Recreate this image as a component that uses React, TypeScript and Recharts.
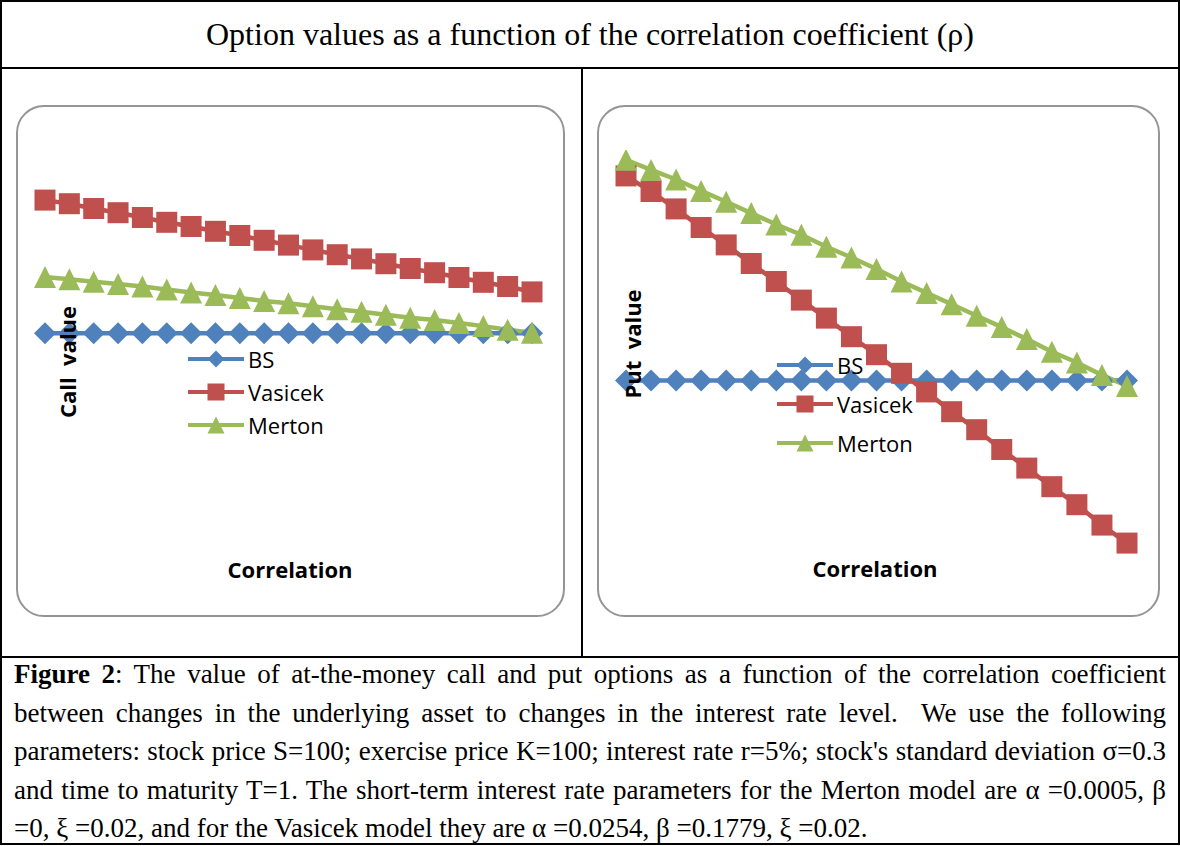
import { LineChart, Line, XAxis, YAxis, Legend } from 'recharts'

const correlation = [-1, -0.9, -0.8, -0.7, -0.6, -0.5, -0.4, -0.3, -0.2, -0.1, 0, 0.1, 0.2, 0.3, 0.4, 0.5, 0.6, 0.7, 0.8, 0.9, 1]

// call values (left panel)
const bsCall = [14.23, 14.23, 14.23, 14.23, 14.23, 14.23, 14.23, 14.23, 14.23, 14.23, 14.23, 14.23, 14.23, 14.23, 14.23, 14.23, 14.23, 14.23, 14.23, 14.23, 14.23]
const vasicekCall = [16.45, 16.39, 16.31, 16.24, 16.16, 16.08, 16.01, 15.93, 15.86, 15.78, 15.7, 15.62, 15.54, 15.47, 15.39, 15.31, 15.24, 15.16, 15.08, 15.01, 14.92]
const mertonCall = [15.17, 15.13, 15.09, 15.05, 15.01, 14.96, 14.91, 14.87, 14.82, 14.77, 14.73, 14.68, 14.63, 14.59, 14.54, 14.49, 14.45, 14.4, 14.35, 14.29, 14.24]

// put values (right panel)
const bsPut = [9.35, 9.35, 9.35, 9.35, 9.35, 9.35, 9.35, 9.35, 9.35, 9.35, 9.35, 9.35, 9.35, 9.35, 9.35, 9.35, 9.35, 9.35, 9.35, 9.35, 9.35]
const vasicekPut = [12.76, 12.5, 12.21, 11.9, 11.61, 11.3, 11.0, 10.69, 10.39, 10.08, 9.78, 9.47, 9.16, 8.83, 8.53, 8.2, 7.89, 7.58, 7.28, 6.94, 6.64]
const mertonPut = [13.03, 12.86, 12.7, 12.51, 12.33, 12.14, 11.95, 11.78, 11.58, 11.4, 11.21, 11.0, 10.81, 10.62, 10.43, 10.24, 10.04, 9.83, 9.65, 9.44, 9.26]

const seriesNames = ['BS', 'Vasicek', 'Merton']
const COLORS: Record<string, string> = { BS: '#4F81BD', Vasicek: '#C0504D', Merton: '#9BBB59' }

const callRows = correlation.map((rho, i) => ({ rho, BS: bsCall[i], Vasicek: vasicekCall[i], Merton: mertonCall[i] }))
const putRows = correlation.map((rho, i) => ({ rho, BS: bsPut[i], Vasicek: vasicekPut[i], Merton: mertonPut[i] }))

function marker(name: string, cx: number, cy: number, s: number, key?: string) {
  const c = COLORS[name]
  if (name === 'BS') {
    return <path key={key} d={`M${cx},${cy - s}L${cx + s},${cy}L${cx},${cy + s}L${cx - s},${cy}Z`} fill={c} />
  }
  if (name === 'Vasicek') {
    return <rect key={key} x={cx - s} y={cy - s} width={s * 2} height={s * 2} fill={c} />
  }
  return <path key={key} d={`M${cx},${cy - s}L${cx + s},${cy + s}L${cx - s},${cy + s}Z`} fill={c} />
}

const dotFor = (name: string, size: number) => (p: any) => marker(name, p.cx, p.cy, size, `${name}-${p.index}`)

// keep the legend in series order (recharts sorts by name otherwise)
const legendContent = (gap: number) => (props: any) => {
  const items = seriesNames.filter((n) => (props.payload || []).some((e: any) => e.value === n))
  return (
    <div style={{ fontFamily: '"Open Sans", sans-serif', fontSize: 22, color: '#000' }}>
      {items.map((n) => (
        <div key={n} style={{ display: 'flex', alignItems: 'center', height: gap }}>
          <svg width={56} height={24} style={{ marginRight: 4 }}>
            <line x1={0} y1={12} x2={56} y2={12} stroke={COLORS[n]} strokeWidth={4} />
            {marker(n, 28, 12, 8.5)}
          </svg>
          <span style={{ lineHeight: 1 }}>{n}</span>
        </div>
      ))}
    </div>
  )
}

interface PanelProps {
  left: number
  width: number
  rows: any[]
  yDomain: [number, number]
  margin: { top: number; right: number; bottom: number; left: number }
  legend: { left: number; top: number; gap: number }
  yLabel: string
  yLabelAt: [number, number]
  xLabelAt: [number, number]
}

function Panel({ left, width, rows, yDomain, margin, legend, yLabel, yLabelAt, xLabelAt }: PanelProps) {
  return (
    <>
      <div style={{ position: 'absolute', left, top: 105, width, height: 512, boxSizing: 'border-box', border: '2px solid #959595', borderRadius: 28 }} />
      <div style={{ position: 'absolute', left, top: 105 }}>
        <LineChart width={width} height={512} data={rows} margin={margin}>
          <XAxis dataKey="rho" type="number" domain={[-1, 1]} hide />
          <YAxis type="number" domain={yDomain} allowDataOverflow hide />
          <Legend
            layout="vertical"
            align="center"
            verticalAlign="middle"
            wrapperStyle={{ left: legend.left, top: legend.top, width: 'auto', height: 'auto' }}
            content={legendContent(legend.gap)}
          />
          {seriesNames.map((n) => (
            <Line
              key={n}
              type="linear"
              dataKey={n}
              name={n}
              stroke={COLORS[n]}
              strokeWidth={4.5}
              dot={dotFor(n, n === 'Vasicek' ? 10.5 : 11)}
              activeDot={false}
              isAnimationActive={false}
            />
          ))}
        </LineChart>
      </div>
      <div style={{ position: 'absolute', left: yLabelAt[0], top: yLabelAt[1], transform: 'translate(-50%, -50%) rotate(-90deg)', fontFamily: '"Open Sans", sans-serif', fontWeight: 700, fontSize: 22, whiteSpace: 'pre', lineHeight: 1 }}>{yLabel}</div>
      <div style={{ position: 'absolute', left: xLabelAt[0], top: xLabelAt[1], transform: 'translate(-50%, -50%)', fontFamily: '"Open Sans", sans-serif', fontWeight: 700, fontSize: 22, whiteSpace: 'pre', lineHeight: 1 }}>Correlation</div>
    </>
  )
}

const captionLine: React.CSSProperties = { textAlign: 'justify', textAlignLast: 'justify', whiteSpace: 'nowrap' }

export default function App() {
  return (
    <div style={{ position: 'absolute', left: 0, top: 0, width: 1180, height: 846, background: '#fff' }}>
      {/* table frame */}
      <div style={{ position: 'absolute', left: 0, top: 0, width: 1180, height: 845, boxSizing: 'border-box', border: '2px solid #000' }} />
      <div style={{ position: 'absolute', left: 0, top: 67, width: 1180, height: 2, background: '#000' }} />
      <div style={{ position: 'absolute', left: 581, top: 68, width: 2, height: 590, background: '#000' }} />
      <div style={{ position: 'absolute', left: 0, top: 656, width: 1180, height: 2, background: '#000' }} />

      <div style={{ position: 'absolute', left: 0, top: 2, width: 1180, height: 65, display: 'flex', alignItems: 'center', justifyContent: 'center', fontFamily: '"Liberation Serif", serif', fontSize: 32 }}>
        Option values as a function of the correlation coefficient (ρ)
      </div>

      <Panel
        left={16}
        width={549}
        rows={callRows}
        yDomain={[10.452, 17.285]}
        margin={{ top: 45, right: 33, bottom: 57, left: 29 }}
        legend={{ left: 172, top: 237, gap: 33 }}
        yLabel="Call  value"
        yLabelAt={[67, 362]}
        xLabelAt={[290, 569]}
      />
      <Panel
        left={597}
        width={563}
        rows={putRows}
        yDomain={[6.358, 13.192]}
        margin={{ top: 45, right: 33, bottom: 57, left: 29 }}
        legend={{ left: 180, top: 240, gap: 39 }}
        yLabel="Put  value"
        yLabelAt={[632, 344]}
        xLabelAt={[875, 568]}
      />

      <div style={{ position: 'absolute', left: 14, top: 655, width: 1152, fontFamily: '"Liberation Serif", serif', fontSize: 27, lineHeight: '38.5px' }}>
        <div style={captionLine}><b>Figure 2</b>: The value of at-the-money call and put options as a function of the correlation coefficient</div>
        <div style={captionLine}>between changes in the underlying asset to changes in the interest rate level.&nbsp; We use the following</div>
        <div style={captionLine}>parameters: stock price S=100; exercise price K=100; interest rate r=5%; stock's standard deviation σ=0.3</div>
        <div style={captionLine}>and time to maturity T=1. The short-term interest rate parameters for the Merton model are α =0.0005, β</div>
        <div>=0, ξ =0.02, and for the Vasicek model they are α =0.0254, β =0.1779, ξ =0.02.</div>
      </div>
    </div>
  )
}
